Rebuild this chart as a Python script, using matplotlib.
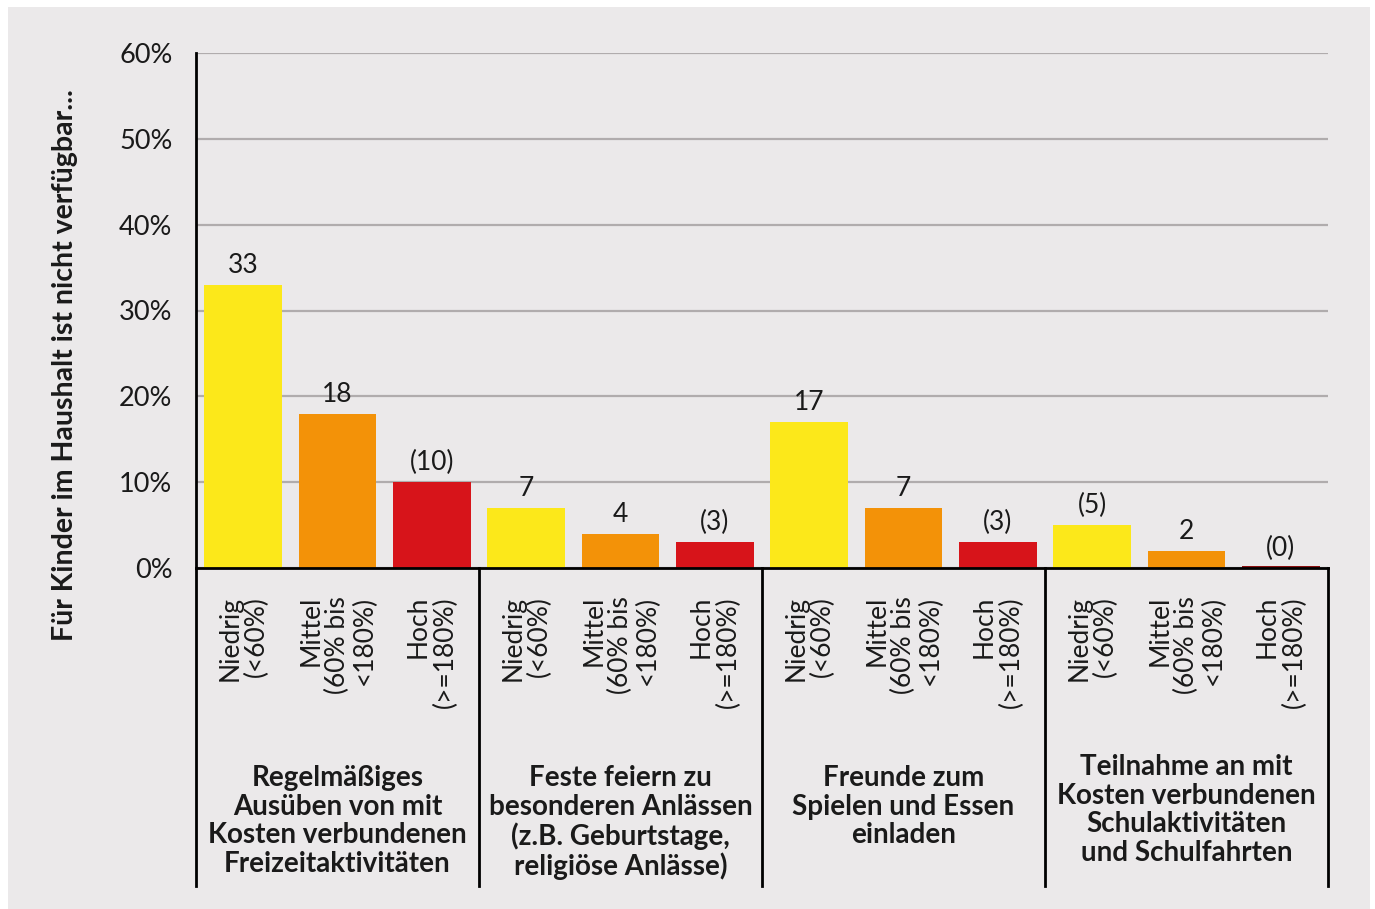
import numpy as np
import matplotlib
matplotlib.use("Agg")
import matplotlib.pyplot as plt
from matplotlib.patches import Rectangle
import matplotlib.transforms as mtransforms

plt.rcParams['font.family'] = ['Lato', 'DejaVu Sans']

# data
groups = ["Regelmäßiges\nAusüben von mit\nKosten verbundenen\nFreizeitaktivitäten",
          "Feste feiern zu\nbesonderen Anlässen\n(z.B. Geburtstage,\nreligiöse Anlässe)",
          "Freunde zum\nSpielen und Essen\neinladen",
          "Teilnahme an mit\nKosten verbundenen\nSchulaktivitäten\nund Schulfahrten"]
levels = ["Niedrig\n(<60%)", "Mittel\n(60% bis\n<180%)", "Hoch\n(>=180%)"]
values = [33, 18, 10, 7, 4, 3, 17, 7, 3, 5, 2, 0]
value_labels = ["33", "18", "(10)", "7", "4", "(3)", "17", "7", "(3)", "(5)", "2", "(0)"]
yticks = [0, 10, 20, 30, 40, 50, 60]
ylabel = "Für Kinder im Haushalt ist nicht verfügbar..."

colors = ["#fce81a", "#f39208", "#d7141a"]
bg = "#ebe9ea"

W, H = 1375, 909
fig = plt.figure(figsize=(W / 100, H / 100), dpi=100)
fig.patch.set_facecolor("white")
fig.patches.append(Rectangle((8 / W, 0), 1362 / W, 1 - 7 / H, transform=fig.transFigure,
                             facecolor=bg, edgecolor="none", zorder=-10))

ax = fig.add_axes([196 / W, 1 - 568 / H, (1328 - 196) / W, (568 - 53) / H])
ax.set_facecolor("none")

n = len(values)
x = np.arange(n) + 0.5
bar_colors = [colors[i % 3] for i in range(n)]
bars = ax.bar(x, values, width=0.82, color=bar_colors, zorder=3)
# the zero bar shows as a thin dark line
ax.bar(x[-1], 0.2, width=0.82, color="#8a1010", zorder=3)

for xi, v, lab in zip(x, values, value_labels):
    ax.annotate(lab, (xi, v), xytext=(0, 5), textcoords="offset points",
                ha="center", va="bottom", fontsize=19, color="#1a1a1a")

ax.set_xlim(0, n)
ax.set_ylim(0, 60)
ax.set_yticks(yticks)
ax.set_yticklabels([f"{t}%" for t in yticks], fontsize=19.5, color="#1a1a1a")
ax.yaxis.grid(True, color="#b0acad", linewidth=1.6, zorder=0)
ax.tick_params(axis="y", length=0, pad=17)
ax.set_xticks([])

for s in ["top", "right"]:
    ax.spines[s].set_visible(False)
ax.spines["left"].set_linewidth(2)
ax.spines["bottom"].set_linewidth(2)
ax.spines["left"].set_zorder(4)
ax.spines["bottom"].set_zorder(4)

ax.set_ylabel(ylabel, fontsize=20.5, fontweight="bold", color="#1a1a1a")
ax.yaxis.set_label_coords(-0.104, 0.394)

trans = mtransforms.blended_transform_factory(ax.transData, ax.transAxes)
bottom_y = (568 - 886) / (568 - 53)
for g in range(len(groups) + 1):
    ax.plot([g * 3, g * 3], [0, bottom_y], color="black", linewidth=2,
            transform=trans, clip_on=False, zorder=4)

# level labels (rotated)
lev_y = (568 - 596) / (568 - 53)
for i, xi in enumerate(x):
    ax.text(xi, lev_y, levels[i % 3], transform=trans, rotation=90, ha="center", va="top",
            multialignment="right", fontsize=19, color="#1a1a1a", linespacing=1.08)

# group labels
grp_top = [765, 765, 765, 754]
for g, name in enumerate(groups):
    ty = (568 - grp_top[g]) / (568 - 53)
    ax.text(g * 3 + 1.5, ty, name, transform=trans, ha="center", va="top",
            fontsize=20, fontweight="bold", color="#1a1a1a", linespacing=1.12)

fig.savefig("out.png", dpi=100, facecolor=fig.get_facecolor())
